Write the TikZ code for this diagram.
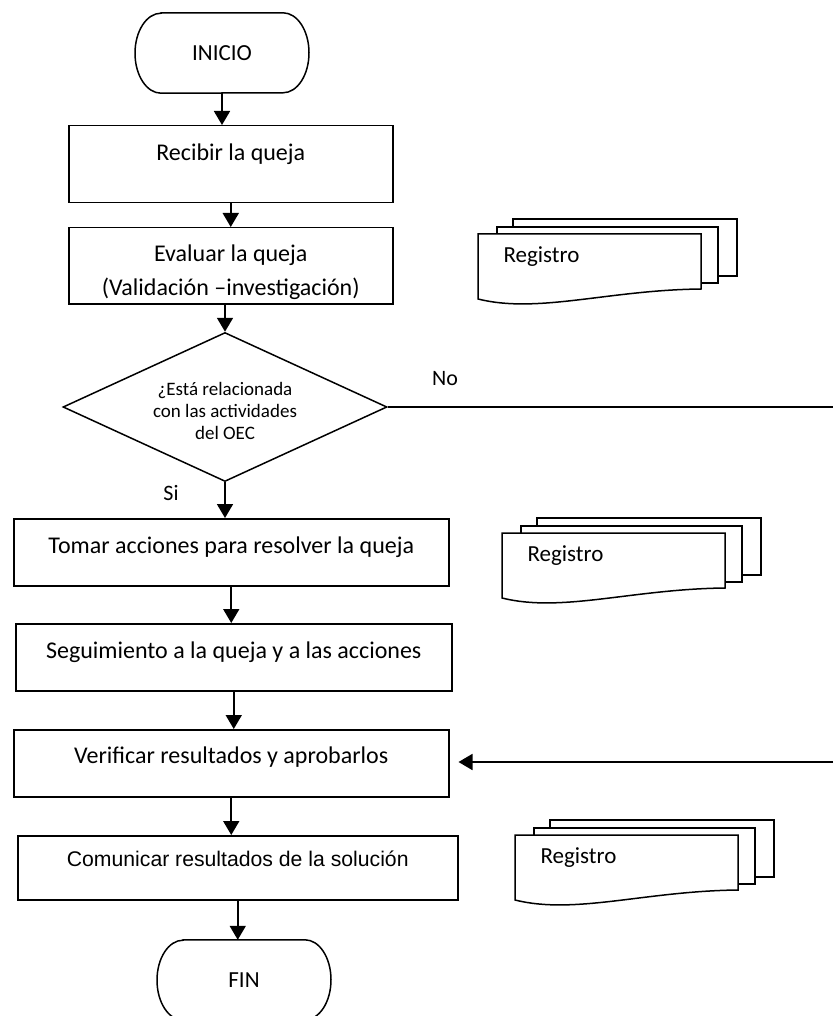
\documentclass[tikz,border=0pt]{standalone}
\usepackage{fontspec}
\setmainfont{Carlito}
\newfontfamily\arialfont{Liberation Sans}
\usetikzlibrary{shapes.geometric,arrows.meta,calc}

\tikzset{
	line/.style={line width=1.5pt},
	flow/.style={line width=1.8pt, -{Triangle[width=16pt,length=14pt]}},
	procbox/.style 2 args={draw, line width=1.5pt, inner xsep=0pt, inner ysep=0pt, anchor=north west, text height=#1, text depth=#2, font=\fontsize{24}{29}\selectfont},
	sheet/.style={draw, fill=white, line width=1.5pt},
	small/.style={font=\fontsize{22}{26}\selectfont},
}

% stack of three sheets, #1 name of the text node, #2,#3 top left corner of the front sheet
\newcommand\registro[3]{%
	\draw[sheet] (#2+35,#3-15) rectangle (#2+259,#3+42); %back sheet
	\draw[sheet] (#2+19,#3-7) rectangle (#2+240,#3+49); %middle sheet
	\draw[sheet] (#2,#3) -- (#2+223,#3) -- (#2+223,#3+55) .. controls (#2+130,#3+56) and (#2+60,#3+80) .. (#2,#3+65) -- cycle; %front sheet
	\node[anchor=west, font=\fontsize{23}{28}\selectfont] (#1) at (#2+22,#3+23) {Registro};
}

% start / end terminal, #1 name, #2,#3 centre, #4 text
\newcommand\terminal[4]{%
	\node[minimum width=174pt, minimum height=80pt, inner sep=0pt, font=\fontsize{23}{28}\selectfont] (#1) at (#2,#3) {#4};
	\draw[line] ([xshift=-61pt]#1.north) -- ([xshift=61pt]#1.north)
		arc[start angle=90, end angle=-90, x radius=26pt, y radius=40pt]
		-- ([xshift=-61pt]#1.south)
		arc[start angle=270, end angle=90, x radius=26pt, y radius=40pt] -- cycle;
}

\begin{document}
\begin{tikzpicture}[x=1pt, y=-1pt]
	\useasboundingbox (0,0) rectangle (833,1016);
	%Terminals
	%===========================================================
	\terminal{inicio}{222}{53}{INICIO}
	\terminal{fin}{244}{980}{FIN}
	%Process boxes
	%===========================================================
	\node[procbox={35pt}{42pt}, minimum width=324pt] (recibir) at (68,125) {Recibir la queja};
	\node[procbox={34pt}{42pt}, minimum width=324pt, font=\fontsize{24}{34}\selectfont] (evaluar) at (68,227) {\begin{tabular}[t]{@{}c@{}}Evaluar la queja\\(Validación –investigación)\end{tabular}};
	\node[draw, line width=1.5pt, diamond, aspect=2.2, minimum width=324pt, minimum height=149pt, inner sep=0pt, text height=14pt, text depth=38pt, font=\fontsize{19}{22}\selectfont] (decision) at (225,407) {\begin{tabular}[t]{@{}c@{}}¿Está relacionada\\con las actividades\\del OEC\end{tabular}};
	\node[procbox={35pt}{32pt}, minimum width=435pt] (tomar) at (13,518) {Tomar acciones para resolver la queja};
	\node[procbox={35pt}{32pt}, minimum width=436pt] (seguimiento) at (15,623) {Seguimiento a la queja y a las acciones};
	\node[procbox={34pt}{33pt}, minimum width=435pt] (verificar) at (13,729) {Verificar resultados y aprobarlos};
	\node[procbox={31pt}{33pt}, minimum width=440pt, font=\arialfont\fontsize{21.2}{25}\selectfont] (comunicar) at (17,835) {Comunicar resultados de la solución};
	%Records
	%===========================================================
	\registro{reg1}{478}{234}
	\registro{reg2}{502}{533}
	\registro{reg3}{515}{835}
	%Branch labels
	\node[small] (no) at (445,379) {No};
	\node[small] (si) at (171,493) {Si};
	\coordinate (noend) at (833,407); %No line leaves the page
	\coordinate (backstart) at (833,762); %return line comes back
	%Connectors
	%===========================================================
	\draw[flow] (inicio.south) -- (inicio.south |- recibir.north);
	\draw[flow] (recibir.south) -- (evaluar.north);
	\draw[flow] (evaluar.south -| decision.north) -- (decision.north);
	\draw[flow] (decision.south) -- (decision.south |- tomar.north);
	\draw[flow] (tomar.south) -- (tomar.south |- seguimiento.north);
	\draw[flow] (seguimiento.south) -- (seguimiento.south |- verificar.north);
	\draw[flow] (verificar.south) -- (verificar.south |- comunicar.north);
	\draw[flow] (comunicar.south) -- (comunicar.south |- fin.north);
	\draw[line] (decision.east) -- (noend);
	\draw[flow, shorten >=9pt] (backstart) -- (backstart -| verificar.east);
\end{tikzpicture}
\end{document}
